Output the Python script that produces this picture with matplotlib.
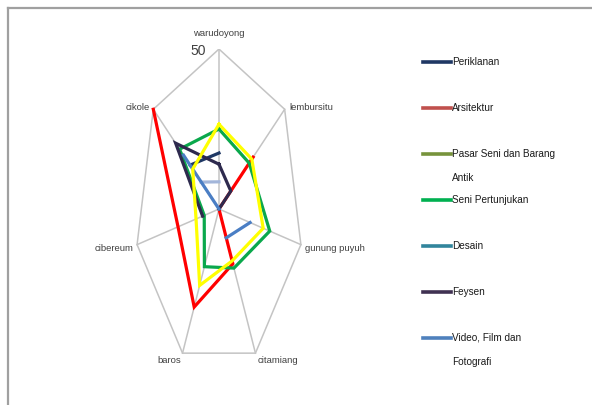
import numpy as np
import matplotlib.pyplot as plt
from matplotlib.lines import Line2D

plt.rcParams['font.family'] = ['Liberation Sans', 'DejaVu Sans']

# categories (clockwise from the top)
spokes = ['warudoyong', 'lembursitu', 'gunung puyuh', 'citamiang', 'baros', 'cibereum', 'cikole']
nan = np.nan

# values (nan = no value / gap)
periklanan = [17.5, nan, nan, nan, nan, nan, 22]
arsitektur = [nan, 26, 0, 19, 34, 25, 50]
pasar_seni = [nan, nan, nan, nan, nan, nan, nan]
seni_pertunjukan = [25, 23, 31, 20.5, 20, 9, 30]
desain = [8.5, nan, nan, nan, nan, nan, 13.5]
feysen = [14, 9, 0, nan, nan, 10, 33]
video = [0, nan, 19, 10, nan, nan, 27]
series_yellow = [26.5, 25, 27, 18, 26.5, 14, 20]
r_max = 50

legend_names = ['Periklanan', 'Arsitektur', 'Pasar Seni dan Barang\nAntik', 'Seni Pertunjukan',
                'Desain', 'Feysen', 'Video, Film dan\nFotografi']
legend_colors = ['#1f3864', '#c0504d', '#77933c', '#00b050', '#31859c', '#403152', '#4f81bd']

# series in draw order: (values, line colour)
series = [
    (periklanan, '#1f3864'),
    (arsitektur, '#ff0000'),
    (pasar_seni, '#77933c'),
    (seni_pertunjukan, '#0aa84c'),
    (desain, '#a3b6da'),
    (feysen, '#2e2a4e'),
    (video, '#4a7ec4'),
    (series_yellow, '#ffff00'),
]

fig = plt.figure(figsize=(5.92, 4.05), dpi=100)
# stretched radar: axes box is narrow, so the heptagon is squashed like the original
ax = fig.add_axes([0.228, 0.0889, 0.2838, 0.790])
ax.set_xlim(-r_max, r_max)
ax.set_ylim(-r_max, r_max)
ax.axis('off')

n = len(spokes)
theta = np.arange(n) * 2 * np.pi / n
sx, sy = np.sin(theta), np.cos(theta)

# grid: spokes and outer ring
for i in range(n):
    ax.plot([0, r_max * sx[i]], [0, r_max * sy[i]], color='#c4c4c4', lw=1.1, zorder=1)
ring_x = np.append(r_max * sx, r_max * sx[0])
ring_y = np.append(r_max * sy, r_max * sy[0])
ax.plot(ring_x, ring_y, color='#c4c4c4', lw=1.1, zorder=1)

for vals, col in series:
    v = np.append(vals, vals[0])
    tx = np.append(sx, sx[0])
    ty = np.append(sy, sy[0])
    ax.plot(v * tx, v * ty, color=col, lw=2.3, solid_joinstyle='miter', zorder=3)

# spoke labels
label_pos = [(0, 55, 'center'), (41.7, 31.6, 'left'), (51.2, -12.2, 'left'), (23.2, -47.5, 'left'),
             (-22.6, -47.5, 'right'), (-50.6, -12.2, 'right'), (-41, 31.6, 'right')]
for name, (lx, ly, ha) in zip(spokes, label_pos):
    ax.text(lx, ly, name, ha=ha, va='center', fontsize=6.8, color='#404040', clip_on=False)
ax.text(-7.7, 49.4, '50', ha='right', va='center', fontsize=10, color='#404040', clip_on=False)

# legend drawn by hand to keep the spacing of the original
y0 = 1 - 62 / 405
step = 46 / 405
for i, (name, col) in enumerate(zip(legend_names, legend_colors)):
    y = y0 - i * step
    fig.add_artist(Line2D([423 / 592, 451 / 592], [y, y], color=col, lw=2.6,
                          transform=fig.transFigure))
    lines = name.split('\n')
    fig.text(452 / 592, y, lines[0], ha='left', va='center', fontsize=7.2, color='#1a1a1a')
    if len(lines) > 1:
        fig.text(452 / 592, y - 24 / 405, lines[1], ha='left', va='center', fontsize=7.2,
                 color='#1a1a1a')

# frame of the original picture (top and left edges only)
fig.add_artist(Line2D([7.5 / 592, 1], [1 - 7.5 / 405, 1 - 7.5 / 405], color='#a0a0a0', lw=1.6,
                      transform=fig.transFigure))
fig.add_artist(Line2D([7.5 / 592, 7.5 / 592], [0, 1 - 7.5 / 405], color='#a0a0a0', lw=1.6,
                      transform=fig.transFigure))

fig.savefig('out.png', dpi=100)
